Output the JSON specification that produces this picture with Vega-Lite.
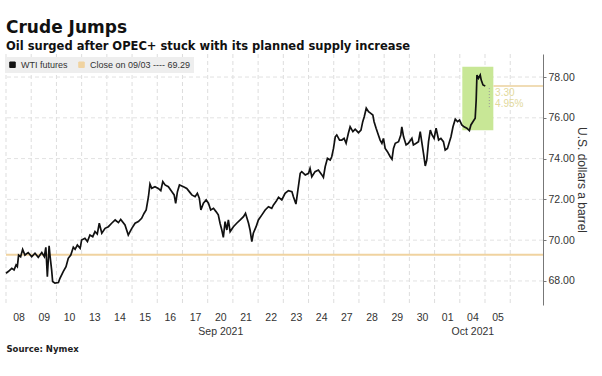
{
  "$schema": "https://vega.github.io/schema/vega-lite/v6.json",
  "width": 537,
  "height": 251,
  "autosize": {"type": "none"},
  "padding": {"left": 6, "top": 54, "right": 59, "bottom": 71},
  "background": "white",
  "title": {
    "text": "Crude Jumps",
    "subtitle": "Oil surged after OPEC+ stuck with its planned supply increase",
    "anchor": "start",
    "frame": "group",
    "font": "DejaVu Sans",
    "fontSize": 17,
    "fontWeight": "bold",
    "color": "#111111",
    "subtitleFont": "DejaVu Sans",
    "subtitleFontSize": 11.5,
    "subtitleFontWeight": "bold",
    "subtitleColor": "#111111",
    "subtitlePadding": 4,
    "offset": 0
  },
  "config": {
    "view": {"stroke": null},
    "axis": {"labelFont": "Liberation Sans", "titleFont": "Liberation Sans", "labelOverlap": false},
    "axisX": {"labelOverlap": false, "grid": false, "ticks": false, "domain": false}
  },
  "resolve": {"scale": {"x": "shared", "y": "shared"}, "axis": {"x": "independent"}},
  "layer": [
    {
      "data": {"values": [{"t":0},{"t":1},{"t":2},{"t":3},{"t":4},{"t":5},{"t":6},{"t":7},{"t":8},{"t":9},{"t":10},{"t":11},{"t":12},{"t":13},{"t":14},{"t":15},{"t":16},{"t":17},{"t":18},{"t":19},{"t":20}]},
      "mark": {"type": "rule", "color": "#dddddd", "strokeDash": [4, 3], "strokeWidth": 1},
      "encoding": {
        "x": {
          "field": "t", "type": "quantitative",
          "scale": {"domain": [0, 21.3], "nice": false, "zero": false},
          "axis": {
            "orient": "bottom",
            "values": [0.5,1.5,2.5,3.5,4.5,5.5,6.5,7.5,8.5,9.5,10.5,11.5,12.5,13.5,14.5,15.5,16.5,17.5,18.5,19.5],
            "labelExpr": "['08','09','10','13','14','15','16','17','20','21','22','23','24','27','28','29','30','01','04','05'][floor(datum.value)]",
            "grid": false, "ticks": false, "tickSize": 0, "domain": false,
            "labelPadding": 7, "labelFontSize": 10.5, "labelColor": "#333333",
            "labelOverlap": false, "labelFlush": false, "labelBound": false,
            "title": null
          }
        }
      }
    },
    {
      "data": {"values": [{"g":68},{"g":70},{"g":72},{"g":74},{"g":76},{"g":78}]},
      "mark": {"type": "rule", "color": "#e2e2e2", "strokeDash": [4, 3], "strokeWidth": 1},
      "encoding": {
        "y": {
          "field": "g", "type": "quantitative",
          "scale": {"domain": [66.82, 79.13], "nice": false, "zero": false},
          "axis": {
            "orient": "right",
            "values": [68, 70, 72, 74, 76, 78],
            "format": ".2f",
            "grid": false, "domainColor": "#777777", "tickColor": "#777777", "tickSize": 3,
            "labelPadding": 2, "labelFontSize": 10.5, "labelColor": "#333333", "labelOverlap": false,
            "title": "U.S. dollars a barrel", "titleFontSize": 12, "titleFontWeight": "normal",
            "titleColor": "#333333", "titlePadding": 0
          }
        }
      }
    },
    {
      "data": {"values": [{"x1": 18.1, "x2": 19.33, "y1": 75.39, "y2": 78.5}]},
      "mark": {"type": "rect", "color": "#c8e796", "opacity": 1},
      "encoding": {
        "x": {
          "field": "x1", "type": "quantitative",
          "axis": {
            "orient": "bottom",
            "offset": 20,
            "values": [8.5, 18.5],
            "labelExpr": "datum.value < 10 ? 'Sep 2021' : 'Oct 2021'",
            "grid": false, "ticks": false, "tickSize": 0, "domain": false,
            "labelPadding": 1, "labelFontSize": 10.5, "labelColor": "#333333",
            "labelOverlap": false, "labelFlush": false, "labelBound": false,
            "title": "Source: Nymex", "titleAnchor": "start", "titleFont": "DejaVu Sans",
            "titleFontWeight": "bold", "titleFontSize": 8.5, "titleColor": "#222222", "titlePadding": 8
          }
        },
        "x2": {"field": "x2"},
        "y": {"field": "y1", "type": "quantitative"},
        "y2": {"field": "y2"}
      }
    },
    {
      "data": {"values": [{"c": 69.29}]},
      "mark": {"type": "rule", "strokeWidth": 2},
      "encoding": {
        "y": {"field": "c", "type": "quantitative"},
        "color": {"datum": "Close on 09/03 ---- 69.29"}
      }
    },
    {
      "data": {"values": [{"x1": 19.33, "x2": 21.3, "p": 77.56}]},
      "mark": {"type": "rule", "strokeWidth": 2, "color": "#f0dcb5"},
      "encoding": {
        "x": {"field": "x1", "type": "quantitative", "axis": null},
        "x2": {"field": "x2"},
        "y": {"field": "p", "type": "quantitative"}
      }
    },
    {
      "data": {"values": [{"x": 19.17, "ya": 77.46, "yb": 76.48}]},
      "mark": {"type": "rule", "strokeWidth": 1, "color": "#999999", "strokeDash": [1, 2]},
      "encoding": {
        "x": {"field": "x", "type": "quantitative", "axis": null},
        "y": {"field": "ya", "type": "quantitative"},
        "y2": {"field": "yb"}
      }
    },
    {
      "data": {"values": [{"x": 19.4, "y": 77.2, "s": "3.30"}, {"x": 19.4, "y": 76.68, "s": "4.95%"}]},
      "mark": {"type": "text", "align": "left", "baseline": "middle", "font": "Liberation Sans", "fontSize": 10, "color": "#e2d99c"},
      "encoding": {
        "x": {"field": "x", "type": "quantitative", "axis": null},
        "y": {"field": "y", "type": "quantitative"},
        "text": {"field": "s"}
      }
    },
    {
      "data": {"values": [
        {"t":0,"v":68.38},{"t":0.09,"v":68.46},{"t":0.23,"v":68.62},{"t":0.32,"v":68.54},{"t":0.40,"v":68.78},{"t":0.45,"v":68.70},{"t":0.50,"v":69.27},{"t":0.58,"v":69.19},{"t":0.66,"v":69.55},{"t":0.75,"v":69.27},{"t":0.88,"v":69.39},{"t":1.02,"v":69.19},{"t":1.15,"v":69.36},{"t":1.28,"v":69.16},{"t":1.42,"v":69.39},{"t":1.52,"v":69.19},{"t":1.58,"v":69.65},{"t":1.64,"v":68.21},{"t":1.71,"v":69.72},{"t":1.75,"v":69.19},{"t":1.81,"v":68.54},{"t":1.85,"v":67.97},{"t":1.94,"v":67.89},{"t":2.08,"v":67.92},{"t":2.14,"v":68.13},{"t":2.27,"v":68.46},{"t":2.38,"v":68.70},{"t":2.47,"v":69.11},{"t":2.57,"v":69.27},{"t":2.67,"v":69.65},{"t":2.74,"v":69.55},{"t":2.83,"v":69.76},{"t":2.94,"v":69.60},{"t":3.00,"v":70.01},{"t":3.13,"v":70.09},{"t":3.23,"v":69.93},{"t":3.33,"v":70.25},{"t":3.44,"v":70.17},{"t":3.53,"v":70.42},{"t":3.62,"v":70.30},{"t":3.70,"v":70.83},{"t":3.80,"v":70.34},{"t":3.93,"v":70.58},{"t":4.06,"v":70.66},{"t":4.19,"v":70.83},{"t":4.33,"v":70.99},{"t":4.46,"v":70.86},{"t":4.55,"v":71.02},{"t":4.72,"v":70.75},{"t":4.85,"v":70.25},{"t":4.92,"v":70.42},{"t":4.99,"v":70.58},{"t":5.12,"v":70.83},{"t":5.25,"v":70.91},{"t":5.38,"v":71.07},{"t":5.48,"v":71.32},{"t":5.56,"v":71.48},{"t":5.65,"v":72.13},{"t":5.71,"v":72.75},{"t":5.78,"v":72.54},{"t":5.91,"v":72.62},{"t":6.04,"v":72.54},{"t":6.14,"v":72.43},{"t":6.22,"v":72.87},{"t":6.31,"v":72.71},{"t":6.44,"v":72.62},{"t":6.58,"v":72.38},{"t":6.67,"v":72.22},{"t":6.73,"v":71.81},{"t":6.80,"v":72.38},{"t":6.88,"v":72.71},{"t":7.04,"v":72.62},{"t":7.17,"v":72.54},{"t":7.27,"v":72.38},{"t":7.37,"v":72.22},{"t":7.50,"v":72.13},{"t":7.59,"v":72.30},{"t":7.67,"v":72.05},{"t":7.73,"v":71.48},{"t":7.83,"v":71.81},{"t":7.94,"v":71.97},{"t":8.03,"v":71.81},{"t":8.12,"v":71.48},{"t":8.23,"v":71.56},{"t":8.33,"v":71.40},{"t":8.42,"v":71.24},{"t":8.49,"v":70.83},{"t":8.56,"v":70.50},{"t":8.62,"v":70.14},{"t":8.69,"v":70.91},{"t":8.76,"v":70.50},{"t":8.82,"v":70.99},{"t":8.89,"v":70.42},{"t":9.02,"v":70.66},{"t":9.15,"v":70.83},{"t":9.29,"v":70.99},{"t":9.42,"v":71.15},{"t":9.50,"v":71.32},{"t":9.62,"v":70.83},{"t":9.68,"v":70.50},{"t":9.75,"v":69.93},{"t":9.81,"v":70.34},{"t":9.92,"v":70.66},{"t":10.01,"v":70.99},{"t":10.15,"v":71.24},{"t":10.28,"v":71.48},{"t":10.41,"v":71.64},{"t":10.54,"v":71.56},{"t":10.61,"v":71.73},{"t":10.71,"v":71.89},{"t":10.81,"v":72.10},{"t":10.94,"v":71.97},{"t":11.07,"v":72.30},{"t":11.20,"v":72.43},{"t":11.34,"v":72.38},{"t":11.40,"v":72.13},{"t":11.50,"v":71.77},{"t":11.56,"v":72.30},{"t":11.67,"v":73.28},{"t":11.73,"v":73.36},{"t":11.87,"v":73.20},{"t":12.00,"v":73.28},{"t":12.06,"v":73.52},{"t":12.13,"v":73.11},{"t":12.26,"v":73.36},{"t":12.39,"v":73.44},{"t":12.53,"v":73.20},{"t":12.59,"v":73.08},{"t":12.66,"v":73.60},{"t":12.75,"v":74.01},{"t":12.86,"v":73.93},{"t":12.92,"v":74.09},{"t":12.99,"v":74.50},{"t":13.06,"v":75.07},{"t":13.12,"v":75.16},{"t":13.23,"v":74.91},{"t":13.32,"v":74.91},{"t":13.41,"v":74.99},{"t":13.49,"v":74.75},{"t":13.58,"v":75.24},{"t":13.65,"v":75.56},{"t":13.76,"v":75.32},{"t":13.85,"v":75.44},{"t":13.98,"v":75.27},{"t":14.08,"v":75.40},{"t":14.15,"v":75.81},{"t":14.21,"v":76.05},{"t":14.29,"v":76.47},{"t":14.38,"v":76.30},{"t":14.47,"v":76.22},{"t":14.55,"v":76.14},{"t":14.60,"v":75.81},{"t":14.68,"v":75.49},{"t":14.77,"v":75.16},{"t":14.84,"v":74.91},{"t":14.91,"v":74.75},{"t":14.97,"v":74.99},{"t":15.04,"v":74.50},{"t":15.13,"v":74.34},{"t":15.24,"v":74.09},{"t":15.31,"v":73.97},{"t":15.37,"v":74.50},{"t":15.44,"v":74.75},{"t":15.57,"v":74.83},{"t":15.66,"v":75.16},{"t":15.70,"v":75.56},{"t":15.77,"v":75.07},{"t":15.87,"v":74.67},{"t":15.96,"v":74.75},{"t":16.10,"v":75.00},{"t":16.16,"v":74.67},{"t":16.27,"v":74.75},{"t":16.36,"v":74.83},{"t":16.43,"v":75.32},{"t":16.50,"v":74.75},{"t":16.56,"v":74.26},{"t":16.63,"v":73.64},{"t":16.69,"v":73.93},{"t":16.76,"v":74.83},{"t":16.83,"v":75.40},{"t":16.90,"v":75.16},{"t":16.98,"v":74.99},{"t":17.06,"v":75.49},{"t":17.16,"v":74.91},{"t":17.25,"v":74.99},{"t":17.35,"v":74.83},{"t":17.42,"v":74.42},{"t":17.51,"v":74.50},{"t":17.59,"v":74.83},{"t":17.65,"v":75.07},{"t":17.73,"v":75.56},{"t":17.82,"v":75.93},{"t":17.91,"v":75.81},{"t":17.99,"v":75.89},{"t":18.08,"v":75.65},{"t":18.17,"v":75.56},{"t":18.28,"v":75.49},{"t":18.38,"v":75.37},{"t":18.44,"v":75.65},{"t":18.52,"v":75.81},{"t":18.61,"v":75.98},{"t":18.65,"v":76.87},{"t":18.68,"v":78.10},{"t":18.74,"v":77.94},{"t":18.81,"v":78.10},{"t":18.85,"v":77.85},{"t":18.92,"v":77.61},{"t":19.01,"v":77.56}
      ]},
      "mark": {"type": "line", "strokeWidth": 1.7, "interpolate": "linear"},
      "encoding": {
        "x": {"field": "t", "type": "quantitative", "axis": null},
        "y": {"field": "v", "type": "quantitative"},
        "color": {
          "datum": "WTI futures",
          "scale": {"domain": ["WTI futures", "Close on 09/03 ---- 69.29"], "range": ["#111111", "#f0d3a0"]},
          "legend": {
            "title": null, "orient": "none", "legendX": -1, "legendY": 3, "direction": "horizontal",
            "fillColor": "#eeeeee", "padding": 3, "symbolType": "square", "symbolSize": 30,
            "symbolStrokeWidth": 1, "labelFont": "Liberation Sans", "labelFontSize": 9, "labelColor": "#333333",
            "columnPadding": 8, "symbolOffset": 0,
            "encode": {"symbols": {"update": {"fill": {"scale": "color", "field": "value"}, "fillOpacity": {"value": 1}}}}
          }
        }
      }
    }
  ]
}
